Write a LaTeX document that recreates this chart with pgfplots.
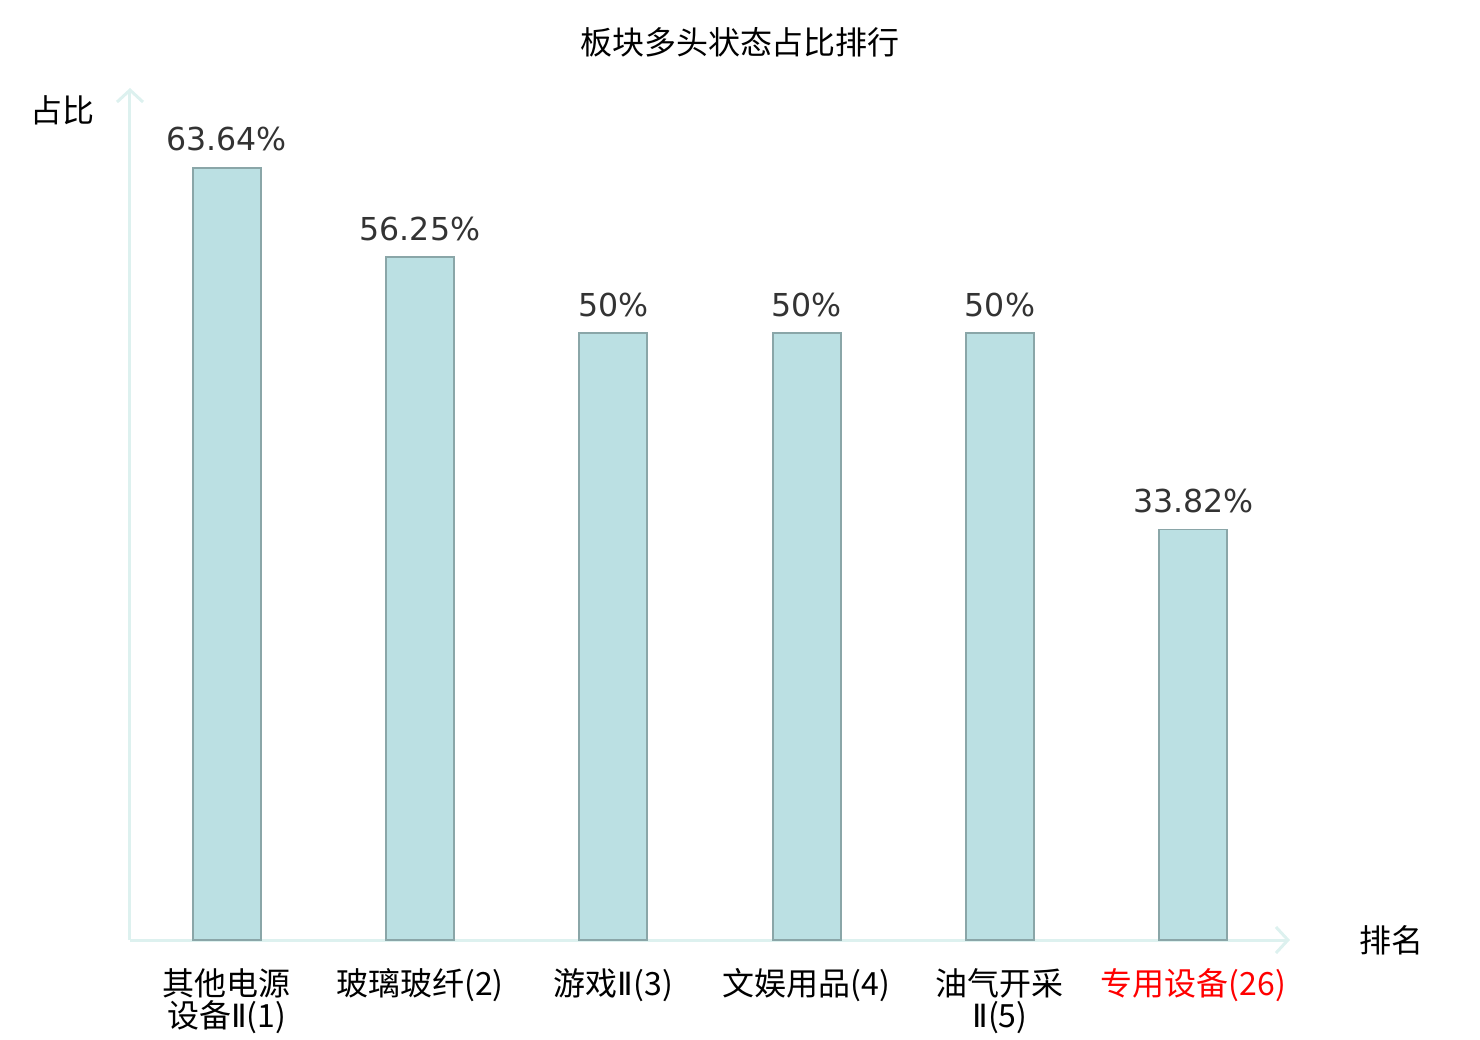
\documentclass[border=0pt]{standalone}
\usepackage{pgfplots}
\pgfplotsset{compat=1.18}
\usepackage{fontspec}
\setmainfont{Noto Sans CJK SC}
\newfontfamily\numfont{DejaVu Sans}
\newcommand{\two}{{\numfont Ⅱ}}
\usetikzlibrary{arrows.meta}
\definecolor{barfill}{HTML}{BBE0E3}
\definecolor{bardraw}{HTML}{8AA6A8}
\definecolor{axcol}{HTML}{DDF1EF}
\definecolor{txt}{HTML}{333333}
\begin{document}
\begin{tikzpicture}
\begin{axis}[
  scale only axis,
  width=580pt, height=426pt,
  xmin=-0.5, xmax=5.5, ymin=0, ymax=70.2,
  axis lines=left,
  axis line style={draw=axcol, line width=1.5pt, -{Straight Barb[length=6pt,width=13pt,line width=1.5pt]}},
  ytick=\empty,
  xtick={0,1,2,3,4,5},
  xtick style={draw=none},
  xticklabels={{其他电源\\设备\two(1)},{玻璃玻纤(2)},{游戏\two(3)},{文娱用品(4)},{油气开采\\\two(5)},{\textcolor{red}{专用设备(26)}}},
  xticklabel style={font=\fontsize{16pt}{16pt}\selectfont, align=center, text=black, anchor=north, yshift=-6.5pt},
  ybar, bar width=34pt,
  /pgf/number format/assume math mode=true,
  nodes near coords={\pgfmathprintnumber[fixed,precision=2]{\pgfplotspointmeta}\%},
  nodes near coords style={font=\numfont\fontsize{15.8pt}{18pt}\selectfont, text=txt, yshift=4.5pt},
  clip=false,
]
\addplot[fill=barfill, draw=bardraw, line width=0.9pt] coordinates {(0,63.64) (1,56.25) (2,50) (3,50) (4,50) (5,33.82)};
\coordinate (o) at (rel axis cs:0,0);
\end{axis}
\node[font=\fontsize{16pt}{18pt}\selectfont] at ([shift={(305pt,449pt)}]o) {板块多头状态占比排行};
\node[font=\fontsize{16pt}{18pt}\selectfont] at ([shift={(-33.5pt,415pt)}]o) {占比};
\node[font=\fontsize{16pt}{18pt}\selectfont] at ([shift={(630.5pt,0pt)}]o) {排名};
\pgfresetboundingbox
\useasboundingbox ([shift={(-65pt,-50pt)}]o) rectangle ++(740pt,520pt);
\end{tikzpicture}
\end{document}
